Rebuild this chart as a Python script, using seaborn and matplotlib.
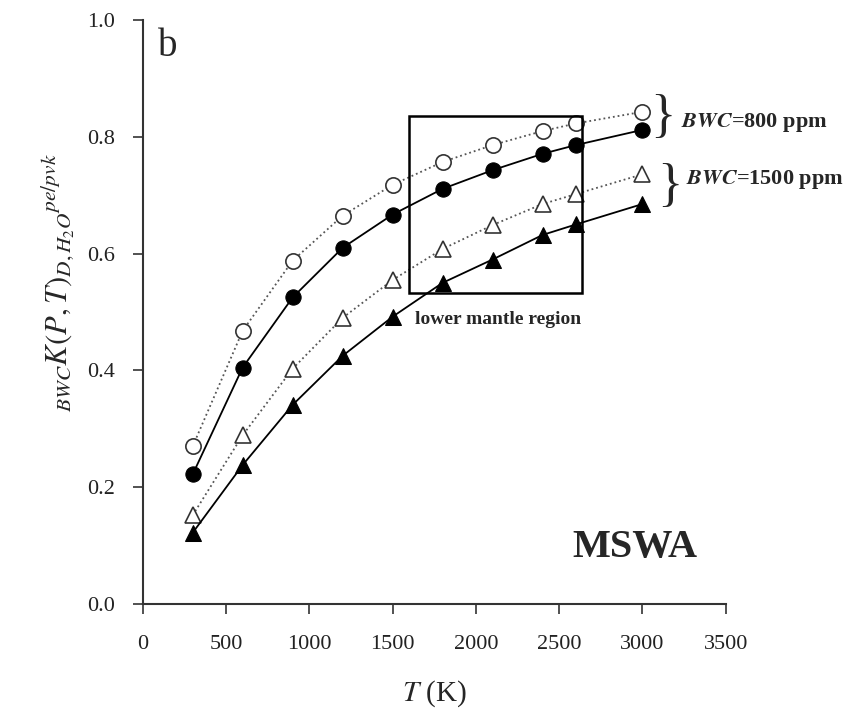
import numpy as np
import pandas as pd
import seaborn as sns
import matplotlib.pyplot as plt
from matplotlib.patches import Rectangle

# temperatures (K)
temp = [300, 600, 900, 1200, 1500, 1800, 2100, 2400, 2600, 3000]
# BWC = 800 ppm
k800_open = [0.270, 0.468, 0.588, 0.665, 0.718, 0.757, 0.786, 0.810, 0.823, 0.843]
k800_fill = [0.222, 0.405, 0.525, 0.610, 0.667, 0.711, 0.743, 0.771, 0.786, 0.812]
# BWC = 1500 ppm
k1500_open = [0.152, 0.289, 0.403, 0.490, 0.555, 0.608, 0.649, 0.685, 0.702, 0.736]
k1500_fill = [0.122, 0.238, 0.341, 0.425, 0.492, 0.550, 0.590, 0.632, 0.650, 0.685]

sns.set_style("ticks")
plt.rcParams['font.family'] = ['Liberation Serif', 'DejaVu Serif']
plt.rcParams['mathtext.fontset'] = 'stix'

fig = plt.figure(figsize=(8.65, 7.19), dpi=100)
ax = fig.add_axes([0.165, 0.160, 0.674, 0.812])

sns.lineplot(x=temp, y=k800_open, ax=ax, color='#555555', linestyle=':', lw=1.3,
             marker='o', markersize=11, markerfacecolor='white',
             markeredgecolor='#333333', markeredgewidth=1.2, zorder=3)
sns.lineplot(x=temp, y=k800_fill, ax=ax, color='black', lw=1.3,
             marker='o', markersize=11, markerfacecolor='black',
             markeredgecolor='black', zorder=4)
sns.lineplot(x=temp, y=k1500_open, ax=ax, color='#555555', linestyle=':', lw=1.3,
             marker='^', markersize=11, markerfacecolor='white',
             markeredgecolor='#333333', markeredgewidth=1.2, zorder=3)
sns.lineplot(x=temp, y=k1500_fill, ax=ax, color='black', lw=1.3,
             marker='^', markersize=11, markerfacecolor='black',
             markeredgecolor='black', zorder=4)

# lower mantle box
ax.add_patch(Rectangle((1600, 0.533), 1040, 0.302, fill=False,
                       edgecolor='black', lw=1.8, zorder=5))
ax.text(1634, 0.487, 'lower mantle region', fontsize=14, fontweight='bold',
        ha='left', va='center')

# braces and labels
ax.text(3045, 0.832, '}', fontsize=38, va='center', ha='left')
ax.text(3230, 0.825, r'$\mathbfit{BWC}$=800 ppm', fontsize=16,
        fontweight='bold', va='center', ha='left')
ax.text(3088, 0.714, '}', fontsize=38, va='center', ha='left')
ax.text(3260, 0.727, r'$\mathbfit{BWC}$=1500 ppm', fontsize=16,
        fontweight='bold', va='center', ha='left')

ax.text(2582, 0.096, 'MSWA', fontsize=29, fontweight='bold', ha='left', va='center')
ax.text(92, 0.955, 'b', fontsize=28, ha='left', va='center')

ax.set_xlim(0, 3500)
ax.set_ylim(0, 1.0)
ax.set_xticks(np.arange(0, 3501, 500))
ax.set_yticks(np.arange(0, 1.01, 0.2))
ax.set_yticklabels([f'{v:.1f}' for v in np.arange(0, 1.01, 0.2)])
ax.tick_params(labelsize=16, direction='out', length=7, width=1.2, pad=8,
               colors='#333333', labelcolor='#222222')
ax.tick_params(axis='x', pad=15)
ax.tick_params(axis='y', pad=13)
for s in ['left', 'bottom']:
    ax.spines[s].set_linewidth(1.5)
    ax.spines[s].set_color('#333333')
sns.despine(ax=ax)

ax.set_xlabel(r'$T$ (K)', fontsize=21, labelpad=18)
ax.set_ylabel(r'$_{BWC}K(P,T)_{D,H_2O}{}^{pe/pvk}$', fontsize=22)
ax.yaxis.set_label_coords(-0.112, 0.55)

fig.savefig('out.png', dpi=100)
